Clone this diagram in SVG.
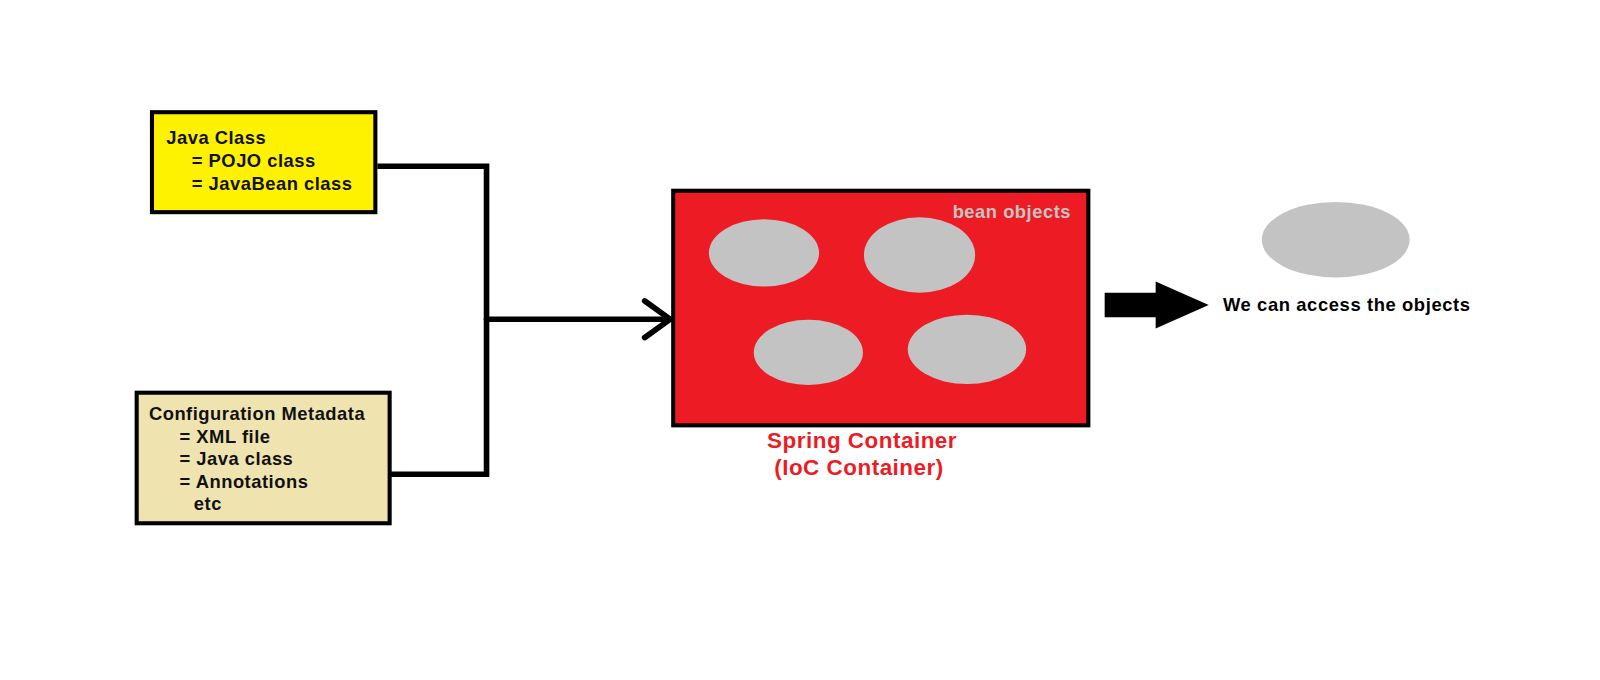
<svg xmlns="http://www.w3.org/2000/svg" width="1600" height="680" viewBox="0 0 1600 680">
<style>
.box{stroke:#000;stroke-width:4}
.t{font-family:"Liberation Sans",Arial,sans-serif;font-weight:bold;font-size:18px;letter-spacing:0.5px;fill:#111}
.bean{fill:#C3C3C3}
.conn{fill:none;stroke:#000;stroke-width:5.5;stroke-linecap:round;stroke-linejoin:miter}
.red{font-family:"Liberation Sans",Arial,sans-serif;font-weight:bold;font-size:22px;letter-spacing:0.5px;fill:#ED1C24}
</style>
<rect width="1600" height="680" fill="#fff"/>
<g transform="scale(1.02)">
<g id="java-class">
<rect class="box" x="149" y="110" width="219" height="98" fill="#FFF200"/>
<text class="t" x="163" y="141">Java Class</text>
<text class="t" x="188" y="163.5">= POJO class</text>
<text class="t" x="188" y="186">= JavaBean class</text>
</g>
<g id="config-metadata">
<rect class="box" x="134" y="385" width="248" height="128" fill="#EFE4B0"/>
<text class="t" x="146" y="412">Configuration Metadata</text>
<text class="t" x="176" y="434">= XML file</text>
<text class="t" x="176" y="456">= Java class</text>
<text class="t" x="176" y="478">= Annotations</text>
<text class="t" x="190" y="500">etc</text>
</g>
<g id="connectors">
<polyline class="conn" points="370,163 477,163 477,465 382,465" style="stroke-linecap:butt"/>
<line class="conn" x1="477" y1="313" x2="656" y2="313"/>
<polyline class="conn" points="632,295 657,313 632,331"/>
<polygon points="1083,287 1133,287 1133,276 1185,299 1133,322 1133,311 1083,311" fill="#000"/>
</g>
<g id="spring-container">
<rect class="box" x="660" y="187" width="407" height="230" fill="#ED1C24"/>
<text class="t" x="1050" y="214" text-anchor="end" style="fill:#C3C3C3">bean objects</text>
<ellipse class="bean" cx="749" cy="248" rx="54" ry="33"/>
<ellipse class="bean" cx="901.5" cy="250" rx="54.5" ry="37"/>
<ellipse class="bean" cx="792.5" cy="345.5" rx="53.5" ry="32"/>
<ellipse class="bean" cx="948" cy="342.5" rx="58" ry="34"/>
<text class="red" x="752" y="439">Spring Container</text>
<text class="red" x="759" y="466">(IoC Container)</text>
</g>
<g id="access-objects">
<ellipse class="bean" cx="1309.5" cy="235" rx="72.5" ry="37"/>
<text class="t" x="1199" y="305" style="fill:#000;letter-spacing:0.6px">We can access the objects</text>
</g>
</g>
</svg>
